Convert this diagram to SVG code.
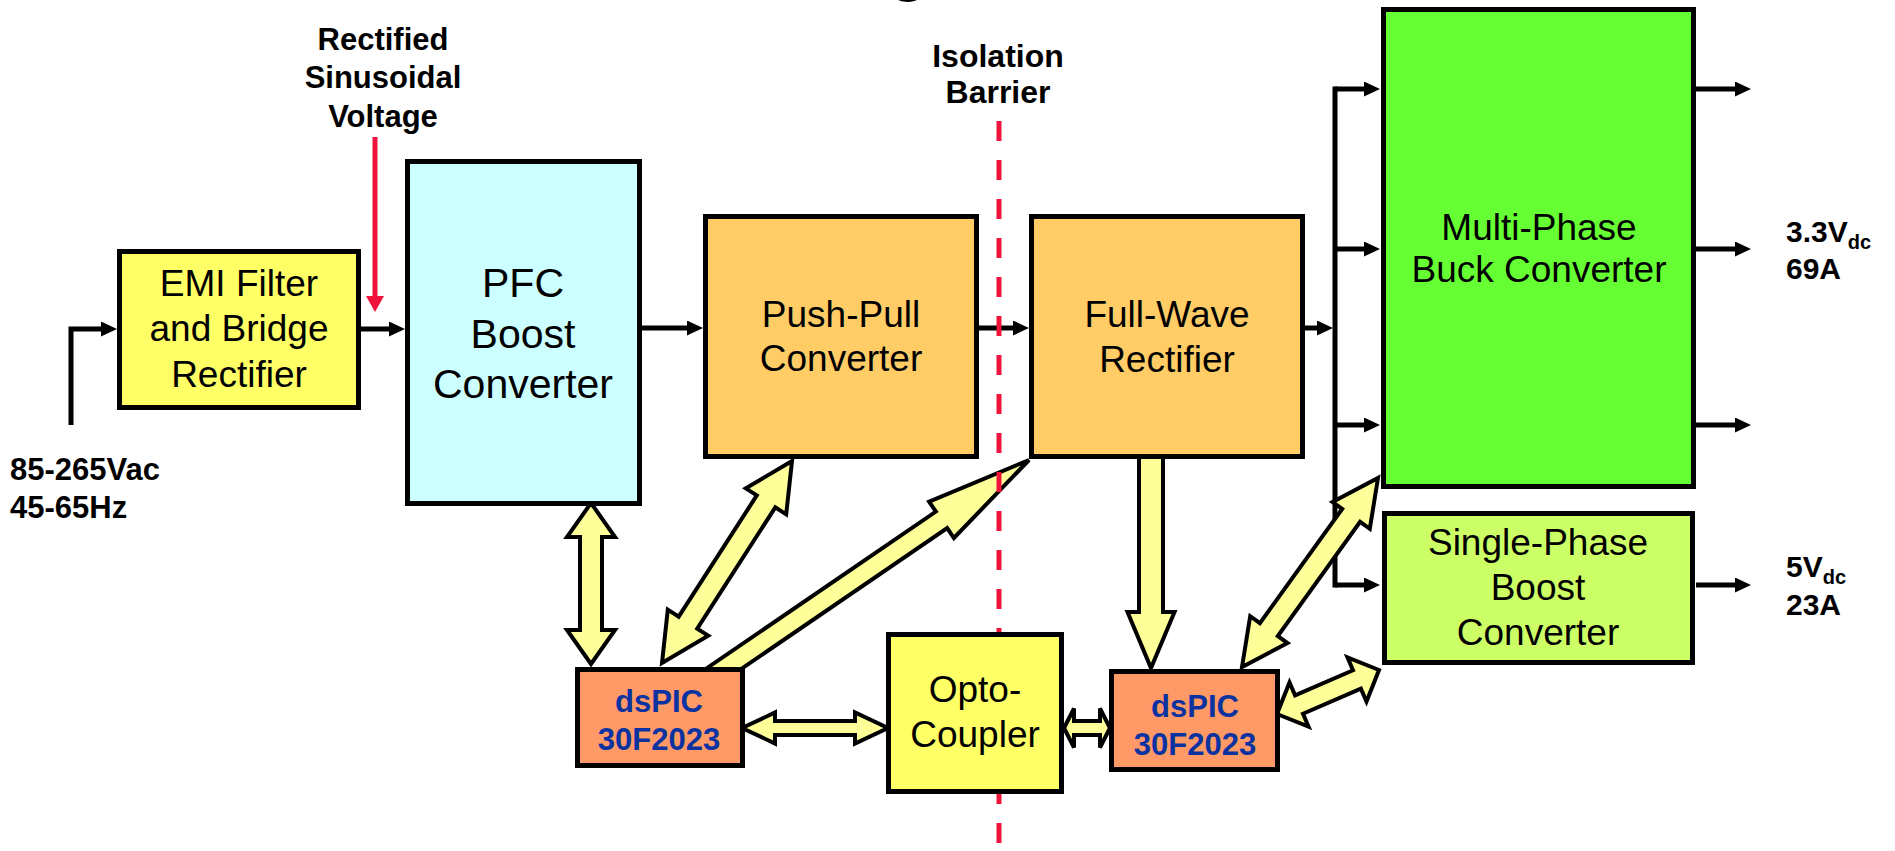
<svg xmlns="http://www.w3.org/2000/svg" width="1895" height="851" viewBox="0 0 1895 851">
<style>
.box{stroke:#000;stroke-width:5}
.t{font-family:"Liberation Sans",Arial,Helvetica,sans-serif;font-size:37px;text-anchor:middle;fill:#000}
.t41{font-size:41px}
.lb{font-family:"Liberation Sans",Arial,Helvetica,sans-serif;font-weight:bold;fill:#000}
.chip{font-family:"Liberation Sans",Arial,Helvetica,sans-serif;font-weight:bold;font-size:31px;text-anchor:middle;fill:#0A32A0}
.wire{fill:none;stroke:#000;stroke-width:5}
.ya{fill:#FFFF99;stroke:#000;stroke-width:4;stroke-linejoin:miter}
</style>
<defs>
<marker id="ah" markerUnits="userSpaceOnUse" markerWidth="16" markerHeight="15" refX="0" refY="7.5" orient="auto" viewBox="0 0 16 15"><path d="M0,0L16,7.5L0,15z" fill="#000"/></marker>
<marker id="ahr" markerUnits="userSpaceOnUse" markerWidth="16" markerHeight="18" refX="0" refY="9" orient="auto" viewBox="0 0 16 18"><path d="M0,0L16,9L0,18z" fill="#F0143C"/></marker>
</defs>
<rect width="1895" height="851" fill="#fff"/>
<text class="lb" x="888" y="-12" font-size="66">g</text>

<g id="connectors">
  <g id="wires">
    <path class="wire" d="M71,425V329H101" marker-end="url(#ah)"/>
    <path class="wire" d="M361,329H389" marker-end="url(#ah)"/>
    <path class="wire" d="M642,328H687" marker-end="url(#ah)"/>
    <path class="wire" d="M979,328H1013" marker-end="url(#ah)"/>
    <path class="wire" d="M1305,328H1317" marker-end="url(#ah)"/>
    <path class="wire" d="M1335,86.5V587.5"/>
    <path class="wire" d="M1335,89H1364" marker-end="url(#ah)"/>
    <path class="wire" d="M1335,249H1364" marker-end="url(#ah)"/>
    <path class="wire" d="M1335,425H1364" marker-end="url(#ah)"/>
    <path class="wire" d="M1335,585H1364" marker-end="url(#ah)"/>
    <path class="wire" d="M1696,89H1735" marker-end="url(#ah)"/>
    <path class="wire" d="M1696,249H1735" marker-end="url(#ah)"/>
    <path class="wire" d="M1696,425H1735" marker-end="url(#ah)"/>
    <path class="wire" d="M1696,585H1735" marker-end="url(#ah)"/>
    <path d="M375,137V296" fill="none" stroke="#F0143C" stroke-width="5" marker-end="url(#ahr)"/>
  </g>
  <g id="data-arrows">
    <polygon class="ya" points="591,503 615,537 602,537 602,630 615,630 591,664 567,630 580,630 580,537 567,537"/>
    <polygon class="ya" points="792,461 786.2,514.4 775.3,507.3 697.2,628.6 708.2,635.6 662,663 667.8,609.6 678.7,616.7 756.8,495.4 745.8,488.4"/>
    <polygon class="ya" points="1029,460 953.9,538 947.2,528.1 705.6,693.3 694.4,676.7 935.9,511.6 929.1,501.7"/>
    <polygon class="ya" points="1139,455 1163,455 1163,612 1174.5,612 1151,668 1127.5,612 1139,612"/>
    <polygon class="ya" points="1378,478 1369.8,528.8 1360.1,521.8 1277.8,636.1 1287.5,643.1 1242,667 1250.2,616.2 1259.9,623.2 1342.2,508.9 1332.5,501.9"/>
    <polygon class="ya" points="1277,714 1308.5,726.5 1303,713.7 1360.9,688.7 1366.5,701.5 1379,670 1347.5,657.5 1353,670.3 1295.1,695.3 1289.5,682.5"/>
    <polygon class="ya" points="742,728 775,712.5 775,721 855,721 855,712.5 888,728 855,743.5 855,735 775,735 775,743.5"/>
    <polygon class="ya" points="1064,728 1074,708.5 1074,721 1100,721 1100,708.5 1110,728 1100,747.5 1100,735 1074,735 1074,747.5"/>
  </g>
</g>

<g id="isolation-barrier">
  <path d="M999,121V851" fill="none" stroke="#F0143C" stroke-width="5" stroke-dasharray="20 19"/>
  <text class="lb" x="998" y="67" font-size="32" text-anchor="middle">Isolation</text>
  <text class="lb" x="998" y="103" font-size="32" text-anchor="middle">Barrier</text>
</g>

<g id="label-rectified">
  <text class="lb" x="383" y="50" font-size="31" text-anchor="middle">Rectified</text>
  <text class="lb" x="383" y="88" font-size="31" text-anchor="middle">Sinusoidal</text>
  <text class="lb" x="383" y="127" font-size="31" text-anchor="middle">Voltage</text>
</g>

<g id="label-input">
  <text class="lb" x="10" y="480" font-size="31">85-265Vac</text>
  <text class="lb" x="10" y="518" font-size="31">45-65Hz</text>
</g>

<g id="emi">
  <rect class="box" x="119.5" y="251.5" width="239" height="156" fill="#FFFF66"/>
  <text class="t" x="239" y="296">EMI Filter</text>
  <text class="t" x="239" y="341">and Bridge</text>
  <text class="t" x="239" y="387">Rectifier</text>
</g>

<g id="pfc">
  <rect class="box" x="407.5" y="161.5" width="232" height="342" fill="#CCFFFF"/>
  <text class="t t41" x="523" y="297">PFC</text>
  <text class="t t41" x="523" y="348">Boost</text>
  <text class="t t41" x="523" y="398">Converter</text>
</g>

<g id="push-pull">
  <rect class="box" x="705.5" y="216.5" width="271" height="240" fill="#FFCC66"/>
  <text class="t" x="841" y="327">Push-Pull</text>
  <text class="t" x="841" y="371">Converter</text>
</g>

<g id="full-wave">
  <rect class="box" x="1031.5" y="216.5" width="271" height="240" fill="#FFCC66"/>
  <text class="t" x="1167" y="327">Full-Wave</text>
  <text class="t" x="1167" y="372">Rectifier</text>
</g>

<g id="multi-phase">
  <rect class="box" x="1383.5" y="9.5" width="310" height="477" fill="#66FF33"/>
  <text class="t" x="1539" y="240">Multi-Phase</text>
  <text class="t" x="1539" y="282">Buck Converter</text>
</g>

<g id="single-phase">
  <rect class="box" x="1384.5" y="513.5" width="308" height="149" fill="#CCFF66"/>
  <text class="t" x="1538" y="555">Single-Phase</text>
  <text class="t" x="1538" y="600">Boost</text>
  <text class="t" x="1538" y="645">Converter</text>
</g>

<g id="dspic-left">
  <rect class="box" x="577.5" y="669.5" width="165" height="96" fill="#FF9966"/>
  <text class="chip" x="659" y="712">dsPIC</text>
  <text class="chip" x="659" y="750">30F2023</text>
</g>

<g id="opto">
  <rect class="box" x="888.5" y="634.5" width="173" height="157" fill="#FFFF66"/>
  <text class="t" x="975" y="702">Opto-</text>
  <text class="t" x="975" y="747">Coupler</text>
</g>

<g id="dspic-right">
  <rect class="box" x="1111.5" y="671.5" width="166" height="98" fill="#FF9966"/>
  <text class="chip" x="1195" y="717">dsPIC</text>
  <text class="chip" x="1195" y="755">30F2023</text>
</g>

<g id="out-3v3">
  <text class="lb" x="1786" y="242" font-size="30">3.3V<tspan font-size="20" dy="7">dc</tspan></text>
  <text class="lb" x="1786" y="279" font-size="30">69A</text>
</g>

<g id="out-5v">
  <text class="lb" x="1786" y="577" font-size="30">5V<tspan font-size="20" dy="7">dc</tspan></text>
  <text class="lb" x="1786" y="615" font-size="30">23A</text>
</g>
</svg>
